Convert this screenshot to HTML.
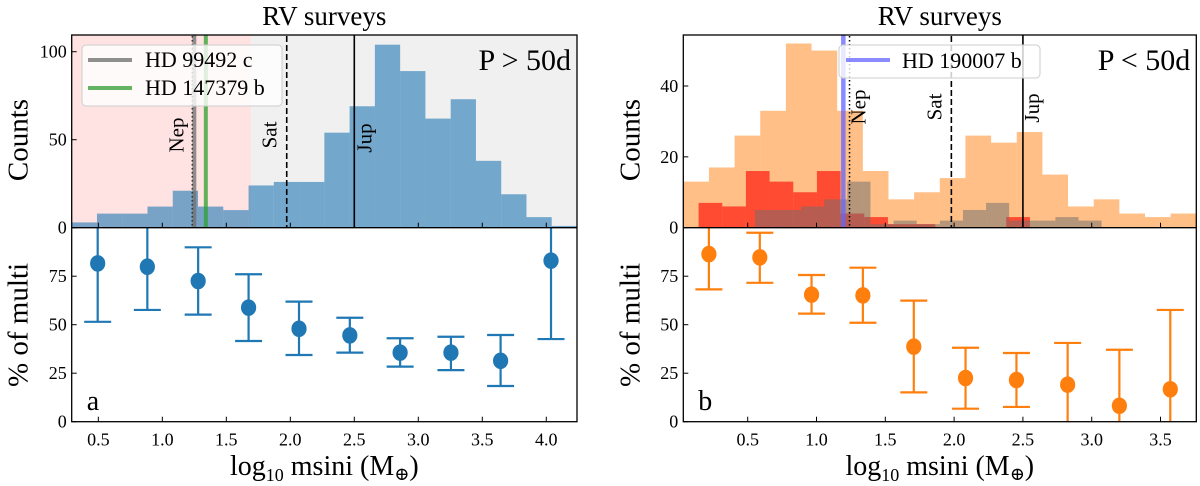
<!DOCTYPE html>
<html><head><meta charset="utf-8"><style>
html,body{margin:0;padding:0;background:#fff;}
svg{display:block;font-family:"Liberation Serif","DejaVu Serif",serif;}
</style></head><body>
<svg id="fig" width="1200" height="486" viewBox="0 0 1200 486" xmlns="http://www.w3.org/2000/svg"></svg>
<script>
// ---------- data ----------
const leftBinStart = 0.292, leftBinWidth = 0.1974;
const leftCounts = [3,8,8,12,21,12,10,24,26,26,54,69,104,89,62,73,38,19,6,1];
const rightBinStart = 0.032, rightBinWidth = 0.1864;
const rightOrange = [13,17,26,33,52,50,33,16,8,10,14,26,24,27,15,6,8,4,3,4];
const redBinStart = 0.143, redBinWidth = 0.172;
const rightRed = [7,6,16,13,10,16,4,3,1,1,0,0,0,3];
const grayBinStart = 0.552, grayBinWidth = 0.168;
const rightGray = [5,5,6,8,13,1,2,1,2,5,7,2,2,3,2];
const leftX = [0.495,0.883,1.28,1.674,2.068,2.465,2.858,3.255,3.643,4.037];
const leftPct = [81.6,79.9,72.5,58.8,47.9,44.5,35.6,35.6,31.4,83];
const leftLo = [51.5,57.6,55.2,41.6,34.4,35.6,28.4,26.6,18.4,42.6];
const leftHi = [115,115,89.9,76,61.9,53.6,43,43.8,44.7,115];
const rightX = [0.218,0.588,0.964,1.337,1.707,2.083,2.453,2.825,3.201,3.571];
const rightPct = [86.4,84.7,65.5,65.1,38.7,22.5,21.5,19.1,8.2,16.7];
const rightLo = [68.2,71.6,55.7,51,15.1,6.7,7.6,-10,-10,-10];
const rightHi = [115,97.4,75.6,79.4,62.4,38.1,35.4,40.6,37.1,57.6];
const leftXTicks = [0.5,1.0,1.5,2.0,2.5,3.0,3.5,4.0];
const rightXTicks = [0.5,1.0,1.5,2.0,2.5,3.0,3.5];
const leftCountTicks = [0,50,100];
const rightCountTicks = [0,20,40];
const pctTicks = [0,25,50,75];
const leftRefLines = {nep:1.235, hd99492:1.25, hd147379:1.34, sat:1.972, jup:2.50, split:1.695};
const rightRefLines = {nep:1.24, hd190007:1.195, sat:1.98, jup:2.50};

const NS = "http://www.w3.org/2000/svg";
const svg = document.getElementById('fig');
function mk(tag, attrs, parent){
  const e = document.createElementNS(NS, tag);
  for (const k in attrs) e.setAttribute(k, attrs[k]);
  (parent||svg).appendChild(e);
  return e;
}
function txt(s, attrs, parent){ const t = mk('text', attrs, parent); t.textContent = s; return t; }

function panel(cfg){
  const g = mk('g', {});
  
  
  const X = v => cfg.x0 + (v - cfg.xmin) / (cfg.xmax - cfg.xmin) * (cfg.x1 - cfg.x0);
  const topY0 = 35, topY1 = 227.7, botY1 = 421.7;
  const YC = v => topY1 - v / cfg.cmax * (topY1 - topY0);
  const YP = v => botY1 - v / 100 * (botY1 - topY1);
  const cid = cfg.name + '-clip-top', cid2 = cfg.name + '-clip-bot';
  const defs = mk('defs', {}, g);
  const c1 = mk('clipPath', {id: cid}, defs);
  mk('rect', {x: cfg.x0, y: topY0, width: cfg.x1 - cfg.x0, height: topY1 - topY0}, c1);
  const c2 = mk('clipPath', {id: cid2}, defs);
  mk('rect', {x: cfg.x0, y: topY1, width: cfg.x1 - cfg.x0, height: botY1 - topY1}, c2);
  const top = mk('g', {'clip-path': 'url(#' + cid + ')'}, g);
  cfg.drawTop(top, X, YC);
  const bot = mk('g', {'clip-path': 'url(#' + cid2 + ')'}, g);
  cfg.px.forEach((xv, i) => {
    const eg = mk('g', {}, bot);
    
    
    const cx = X(xv);
    mk('line', {x1: cx, x2: cx, y1: YP(cfg.lo[i]), y2: YP(cfg.hi[i]), stroke: cfg.color, 'stroke-width': 2.2}, eg);
    [cfg.lo[i], cfg.hi[i]].forEach(v => mk('line', {x1: cx - 13.5, x2: cx + 13.5, y1: YP(v), y2: YP(v), stroke: cfg.color, 'stroke-width': 2.2}, eg));
    mk('ellipse', {cx: cx, cy: YP(cfg.pct[i]), rx: 7.6, ry: 8.3, fill: cfg.color}, eg);
  });
  mk('rect', {x: cfg.x0, y: topY0, width: cfg.x1 - cfg.x0, height: botY1 - topY0, fill: 'none', stroke: '#000', 'stroke-width': 1.3}, g);
  mk('line', {x1: cfg.x0, x2: cfg.x1, y1: topY1, y2: topY1, stroke: '#000', 'stroke-width': 1.3}, g);
  cfg.xticks.forEach(t => {
    const x = X(t);
    mk('line', {x1: x, x2: x, y1: botY1, y2: botY1 - 5, stroke: '#000', 'stroke-width': 1}, g);
    mk('line', {x1: x, x2: x, y1: topY1, y2: topY1 - 5, stroke: '#000', 'stroke-width': 1}, g);
    const l = txt(t.toFixed(1), {x: x, y: botY1 + 24, 'font-size': 18, 'text-anchor': 'middle'}, g);
    
    
  });
  cfg.cticks.forEach(t => {
    const y = YC(t);
    mk('line', {x1: cfg.x0, x2: cfg.x0 + 5, y1: y, y2: y, stroke: '#000', 'stroke-width': 1}, g);
    const l = txt(String(t), {x: cfg.x0 - 5, y: y + 6, 'font-size': 18, 'text-anchor': 'end'}, g);
    
    
  });
  pctTicks.forEach(t => {
    const y = YP(t);
    mk('line', {x1: cfg.x0, x2: cfg.x0 + 5, y1: y, y2: y, stroke: '#000', 'stroke-width': 1}, g);
    const l = txt(String(t), {x: cfg.x0 - 5, y: y + 6, 'font-size': 18, 'text-anchor': 'end'}, g);
    
    
  });
  const cx = (cfg.x0 + cfg.x1) / 2;
  const ti = txt('RV surveys', {x: cx, y: 25, 'font-size': 27, 'text-anchor': 'middle'}, g);
  
  
  const xl = mk('text', {x: cx, y: 475, 'font-size': 28, 'text-anchor': 'middle'}, g);
  xl.innerHTML = 'log<tspan font-size="18" dy="6">10</tspan><tspan dy="-6"> msini (M</tspan><tspan font-size="18" dy="5">⊕</tspan><tspan dy="-5">)</tspan>';
  
  
  const yl1 = txt('Counts', {x: 0, y: 0, 'font-size': 29, 'text-anchor': 'middle', transform: 'translate(' + (cfg.x0 - 44) + ',140) rotate(-90)'}, g);
  
  
  const yl2 = txt('% of multi', {x: 0, y: 0, 'font-size': 29, 'text-anchor': 'middle', transform: 'translate(' + (cfg.x0 - 44) + ',325) rotate(-90)'}, g);
  
  
  const pl = txt(cfg.period, {x: cfg.x1 - 6, y: 70, 'font-size': 30, 'text-anchor': 'end'}, g);
  
  
  const pn = txt(cfg.letter, {x: cfg.x0 + 15, y: 410, 'font-size': 28}, g);
  
  
  return {g, X, YC};
}

function hist(parent, X, YC, start, width, counts, fill, name){
  counts.forEach((c, i) => {
    if (c <= 0) return;
    const a = start + i * width, b = a + width;
    const r = mk('rect', {x: X(a), y: YC(c), width: X(b) - X(a), height: YC(0) - YC(c), fill: fill}, parent);
    
    
  });
}
function vline(parent, x, stroke, w, dash, name){
  const l = mk('line', {x1: x, x2: x, y1: 0, y2: 486, stroke: stroke, 'stroke-width': w}, parent);
  if (dash) l.setAttribute('stroke-dasharray', dash);
  
  
}
function vlabel(parent, s, x, y, name){
  const t = txt(s, {x: 0, y: 0, 'font-size': 21, 'text-anchor': 'middle', transform: 'translate(' + x + ',' + y + ') rotate(-90)'}, parent);
  
  
}

panel({
  name: 'panel-a', x0: 71.7, x1: 577, xmin: 0.292, xmax: 4.24, cmax: 109.5, color: '#1f77b4',
  xticks: leftXTicks, cticks: leftCountTicks, period: 'P > 50d', letter: 'a',
  px: leftX, pct: leftPct, lo: leftLo, hi: leftHi,
  drawTop: (g, X, YC) => {
    const r1 = mk('rect', {x: 0, y: 0, width: X(leftRefLines.split), height: 486, fill: '#ffe3e3'}, g);
     
    const r2 = mk('rect', {x: X(leftRefLines.split), y: 0, width: 600, height: 486, fill: '#f0f0f0'}, g);
     
    hist(g, X, YC, leftBinStart, leftBinWidth, leftCounts, 'rgba(31,119,180,0.6)', 'count');
    vline(g, X(leftRefLines.nep), '#000', 1.5, '1.5,2.5', 'neptune-line');
    vline(g, X(leftRefLines.hd99492), 'rgba(110,110,110,0.75)', 4, null, 'hd99492c-line');
    vline(g, X(leftRefLines.hd147379), 'rgba(44,160,44,0.75)', 4, null, 'hd147379b-line');
    vline(g, X(leftRefLines.sat), '#000', 1.6, '6,3', 'saturn-line');
    vline(g, X(leftRefLines.jup), '#000', 1.6, null, 'jupiter-line');
    vlabel(g, 'Nep', X(leftRefLines.nep) - 9, 135, 'neptune-label');
    vlabel(g, 'Sat', X(leftRefLines.sat) - 10, 135, 'saturn-label');
    vlabel(g, 'Jup', X(leftRefLines.jup) + 17, 138, 'jupiter-label');
    const lg = mk('g', {}, g);
     
    mk('rect', {x: 82, y: 45, width: 200, height: 61, rx: 4, fill: 'rgba(255,255,255,0.8)', stroke: '#ccc', 'stroke-width': 1}, lg);
    mk('line', {x1: 88, x2: 132, y1: 60, y2: 60, stroke: '#8f8f8f', 'stroke-width': 4}, lg);
    mk('line', {x1: 88, x2: 132, y1: 88, y2: 88, stroke: '#62b462', 'stroke-width': 4}, lg);
    const e1 = txt('HD 99492 c', {x: 145, y: 67, 'font-size': 22}, lg);
     
    const e2 = txt('HD 147379 b', {x: 145, y: 95, 'font-size': 22}, lg);
     
  }
});

panel({
  name: 'panel-b', x0: 683.3, x1: 1196.3, xmin: 0.032, xmax: 3.76, cmax: 54.4, color: '#ff7f0e',
  xticks: rightXTicks, cticks: rightCountTicks, period: 'P < 50d', letter: 'b',
  px: rightX, pct: rightPct, lo: rightLo, hi: rightHi,
  drawTop: (g, X, YC) => {
    hist(g, X, YC, rightBinStart, rightBinWidth, rightOrange, 'rgba(255,127,14,0.5)', 'orange');
    hist(g, X, YC, redBinStart, redBinWidth, rightRed, 'rgba(255,20,10,0.68)', 'red');
    hist(g, X, YC, grayBinStart, grayBinWidth, rightGray, 'rgba(110,110,110,0.5)', 'gray');
    vline(g, X(rightRefLines.hd190007), 'rgba(100,100,255,0.75)', 4.5, null, 'hd190007b-line');
    vline(g, X(rightRefLines.nep), '#000', 1.5, '1.5,2.5', 'neptune-line');
    vline(g, X(rightRefLines.sat), '#000', 1.6, '6,3', 'saturn-line');
    vline(g, X(rightRefLines.jup), '#000', 1.6, null, 'jupiter-line');
    vlabel(g, 'Nep', X(rightRefLines.nep) + 16, 107, 'neptune-label');
    vlabel(g, 'Sat', X(rightRefLines.sat) - 10, 107, 'saturn-label');
    vlabel(g, 'Jup', X(rightRefLines.jup) + 16, 108, 'jupiter-label');
    const lg = mk('g', {}, g);
     
    mk('rect', {x: 839, y: 45, width: 201, height: 33, rx: 4, fill: 'rgba(255,255,255,0.8)', stroke: '#ccc', 'stroke-width': 1}, lg);
    mk('line', {x1: 846, x2: 890, y1: 60, y2: 60, stroke: 'rgba(100,100,255,0.75)', 'stroke-width': 4}, lg);
    const e1 = txt('HD 190007 b', {x: 902, y: 68, 'font-size': 22}, lg);
     
  }
});
</script>
</body></html>
